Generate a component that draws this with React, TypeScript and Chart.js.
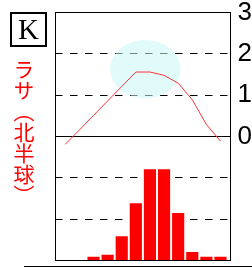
import React, { useEffect, useRef } from 'react';
import { Chart, registerables } from 'chart.js';

Chart.register(...registerables);

// ---- data ----
const monthIndex = [0, 1, 2, 3, 4, 5, 6, 7, 8, 9, 10, 11];
const temperature = [-1.9, 1.6, 5.1, 8.6, 12.1, 15.6, 15.6, 14.8, 12.9, 8.9, 2.9, -1.1];
const precipitation = [0, 0, 4, 6.5, 29, 69, 110, 110, 57, 10, 4, 4];
const tempRange = [-30, 30];
const tempStep = 10;
const precipRange = [0, 300];
const panelLabel = 'K';
const cityLabel = 'ラサ（北半球）';
// highlighted region (in data units: month index / °C)
const highlightCenter = [5.67, 16.3];
const highlightRadius = [2.5, 7.07];

const decorPlugin = {
  id: 'decor',
  beforeDatasetsDraw(chart: any) {
    const { ctx, scales } = chart;
    const x = scales.x;
    const y = scales.y;
    const cx = x.getPixelForValue(highlightCenter[0]);
    const cy = y.getPixelForValue(highlightCenter[1]);
    const rx = Math.abs(x.getPixelForValue(highlightCenter[0] + highlightRadius[0]) - cx);
    const ry = Math.abs(y.getPixelForValue(highlightCenter[1] + highlightRadius[1]) - cy);
    ctx.save();
    ctx.fillStyle = 'rgba(200, 248, 248, 0.55)';
    ctx.beginPath();
    ctx.ellipse(cx, cy, rx, ry, 0, 0, Math.PI * 2);
    ctx.fill();
    ctx.restore();
  },
  afterDraw(chart: any) {
    const { ctx, chartArea: a } = chart;
    ctx.save();
    ctx.strokeStyle = '#000';
    ctx.lineWidth = 1;
    const l = Math.floor(a.left) + 0.5;
    const t = Math.floor(a.top) + 0.5;
    const r = Math.floor(a.right) + 0.5;
    const b = Math.floor(a.bottom) + 0.5;
    ctx.strokeRect(l, t, r - l, b - t);
    ctx.beginPath();
    ctx.moveTo(24, b + 6);
    ctx.lineTo(chart.width, b + 6);
    ctx.stroke();
    ctx.restore();
  },
};

export default function App() {
  const canvasRef = useRef<HTMLCanvasElement | null>(null);

  useEffect(() => {
    document.body.style.margin = '0';
    document.body.style.overflow = 'hidden';
    const canvas = canvasRef.current;
    if (!canvas) return;
    const chart = new Chart(canvas, {
      type: 'bar',
      data: {
        datasets: [
          {
            type: 'line',
            data: monthIndex.map((m, i) => ({ x: m, y: temperature[i] })),
            yAxisID: 'y',
            borderColor: '#ff3333',
            borderWidth: 1,
            pointRadius: 0,
            tension: 0,
            order: 0,
          } as any,
          {
            type: 'bar',
            data: monthIndex.map((m, i) => ({ x: m, y: precipitation[i] })),
            yAxisID: 'y2',
            backgroundColor: '#ff0000',
            barThickness: 11.5,
            order: 1,
          } as any,
        ],
      },
      options: {
        animation: false,
        responsive: false,
        events: [],
        layout: { padding: { top: 12.5, bottom: 9.5, left: 55, right: 0 }, autoPadding: false },
        plugins: { legend: { display: false }, tooltip: { enabled: false } },
        scales: {
          x: {
            type: 'linear',
            display: false,
            min: -0.73,
            max: 11.71,
            offset: false,
            grid: { offset: false },
          },
          y: {
            position: 'right',
            min: tempRange[0],
            max: tempRange[1],
            ticks: {
              stepSize: tempStep,
              callback: (v: any) => (Number(v) >= 0 ? String(v) : ''),
              font: { family: 'Liberation Sans', size: 26 },
              color: '#000',
              padding: 7,
            },
            grid: { color: '#000', lineWidth: 1, drawTicks: false },
            border: {
              display: false,
              dash: (ctx: any) => (ctx.tick && ctx.tick.value === 0 ? [] : [7.5, 7.5]),
            },
            afterFit: (s: any) => {
              s.width = 21.5;
              s.paddingTop = 0;
              s.paddingBottom = 0;
            },
          },
          y2: { display: false, min: precipRange[0], max: precipRange[1] },
        },
      } as any,
      plugins: [decorPlugin],
    });
    return () => chart.destroy();
  }, []);

  return (
    <div style={{ position: 'relative', width: 252, height: 270, overflow: 'hidden', background: '#fff' }}>
      <canvas ref={canvasRef} width={252} height={270} style={{ position: 'absolute', left: 0, top: 0, width: 252, height: 270 }} />
      <div
        style={{
          position: 'absolute',
          left: 10,
          top: 12,
          width: 37,
          height: 35,
          boxSizing: 'border-box',
          border: '2px solid #000',
          display: 'flex',
          alignItems: 'center',
          justifyContent: 'center',
          fontFamily: '"Liberation Serif", serif',
          fontSize: 29,
          lineHeight: 1,
          color: '#000',
        }}
      >
        {panelLabel}
      </div>
      <div
        style={{
          position: 'absolute',
          left: 13,
          top: 59,
          writingMode: 'vertical-rl',
          fontFamily: '"Noto Sans CJK JP", sans-serif',
          fontSize: 21,
          lineHeight: '21px',
          color: '#ff0000',
          whiteSpace: 'nowrap',
        }}
      >
        {cityLabel}
      </div>
    </div>
  );
}
